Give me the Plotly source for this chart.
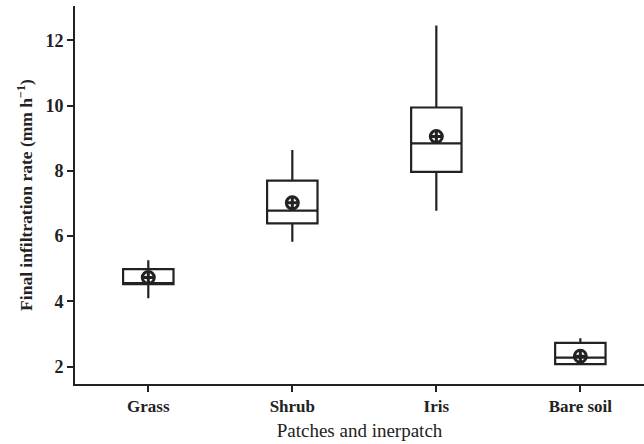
import plotly.graph_objects as go

categories = ["Grass", "Shrub", "Iris", "Bare soil"]
lower = [4.10, 5.83, 6.78, 2.08]
q1 = [4.53, 6.39, 7.97, 2.08]
median = [4.55, 6.78, 8.84, 2.28]
q3 = [4.99, 7.70, 9.94, 2.73]
upper = [5.26, 8.64, 12.45, 2.87]
mean = [4.73, 7.02, 9.05, 2.32]
yticks = [2, 4, 6, 8, 10, 12]

ink = "#222222"
serif = "Liberation Serif, Times New Roman, serif"

fig = go.Figure()
fig.add_trace(go.Box(
    x=categories, q1=q1, median=median, q3=q3,
    lowerfence=lower, upperfence=upper,
    width=0.35, whiskerwidth=0,
    line=dict(color=ink, width=2.2),
    fillcolor="rgba(255,255,255,0)",
    boxpoints=False, showlegend=False, hoverinfo="skip",
))
fig.add_trace(go.Scatter(
    x=categories, y=mean, mode="markers",
    marker=dict(symbol="circle-cross-open", size=12, color=ink,
                line=dict(color=ink, width=3)),
    showlegend=False, hoverinfo="skip",
))

fig.update_layout(
    width=644, height=444,
    margin=dict(l=75, r=0, t=6, b=60),
    plot_bgcolor="white", paper_bgcolor="white",
    font=dict(family=serif, color=ink),
)
fig.update_xaxes(
    range=[-0.509, 3.442], showgrid=False, zeroline=False,
    showline=True, linecolor=ink, linewidth=2,
    ticks="outside", ticklen=6, tickwidth=2, tickcolor=ink,
    tickfont=dict(family=serif, size=17, color=ink, weight="bold"),
    title=dict(text="Patches and inerpatch",
               font=dict(family=serif, size=19, color=ink), standoff=8),
)
fig.update_yaxes(
    range=[1.47, 13.05], showgrid=False, zeroline=False,
    showline=True, linecolor=ink, linewidth=2,
    tickvals=yticks, ticktext=[str(v) for v in yticks],
    ticks="outside", ticklen=6, tickwidth=2, tickcolor=ink,
    tickfont=dict(family=serif, size=18, color=ink, weight="bold"),
    title=dict(text="Final infiltration rate (mm h<sup>−1</sup>)",
               font=dict(family=serif, size=17.5, color=ink, weight="bold"), standoff=8),
)

fig.write_html("out.html")
